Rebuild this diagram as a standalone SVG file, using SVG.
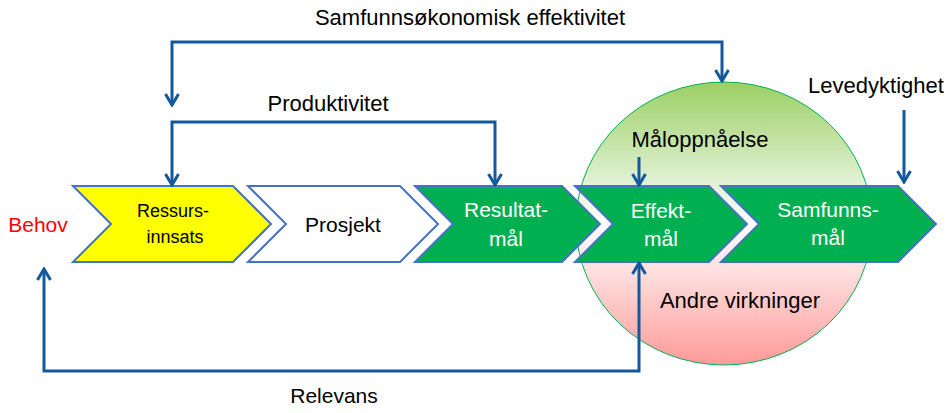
<svg xmlns="http://www.w3.org/2000/svg" width="952" height="413" viewBox="0 0 952 413">
<defs>
<linearGradient id="circ" x1="0" y1="0" x2="0" y2="1">
<stop offset="0" stop-color="#9CCF63"/>
<stop offset="0.33" stop-color="#DCEFCD"/>
<stop offset="0.5" stop-color="#FFFFFF"/>
<stop offset="0.65" stop-color="#FFE3E3"/>
<stop offset="1" stop-color="#FF9A9A"/>
</linearGradient>
<marker id="ah" markerUnits="userSpaceOnUse" markerWidth="16" markerHeight="16" viewBox="0 0 16 16" refX="14" refY="8" orient="auto-start-reverse">
<path d="M3,1.5 L14,8 L3,14.5" fill="none" stroke="#14599C" stroke-width="3"/>
</marker>
</defs>
<style>
text{font-family:"Liberation Sans",Arial,sans-serif;font-size:21px;fill:#000;text-anchor:middle}
.chev{stroke:#4472C4;stroke-width:2;stroke-linejoin:miter}
.w{fill:#FFFFFF}
.conn path{fill:none;stroke:#14599C;stroke-width:3;marker-end:url(#ah)}
.conn path.both{marker-start:url(#ah)}
</style>

<g id="circle">
<ellipse cx="724" cy="223.5" rx="148" ry="141.5" fill="url(#circ)" stroke="#00B050" stroke-width="1"/>
</g>

<g id="behov"><text x="38" y="232" style="fill:#FF0000">Behov</text></g>

<g id="ressursinnsats">
<polygon class="chev" fill="#FFFF00" points="73,186 233,186 271,224 233,262 73,262 111,224"/>
<text x="173" y="217" style="font-size:18px">Ressurs-</text>
<text x="175" y="243" style="font-size:18px">innsats</text>
</g>

<g id="prosjekt">
<polygon class="chev" fill="#FFFFFF" points="248,186 400,186 438,224 400,262 248,262 286,224"/>
<text x="343" y="232">Prosjekt</text>
</g>

<g id="resultatmal">
<polygon class="chev" fill="#00B050" points="415,186 562,186 600,224 562,262 415,262 453,224"/>
<text class="w" x="506" y="217">Resultat-</text>
<text class="w" x="506" y="246">mål</text>
</g>

<g id="effektmal">
<polygon class="chev" fill="#00B050" points="575,186 709,186 747,224 709,262 575,262 613,224"/>
<text class="w" x="661" y="218">Effekt-</text>
<text class="w" x="661" y="246">mål</text>
</g>

<g id="samfunnsmal">
<polygon class="chev" fill="#00B050" points="721,186 898,186 936,224 898,262 721,262 759,224"/>
<text class="w" x="828" y="217">Samfunns-</text>
<text class="w" x="828" y="245">mål</text>
</g>

<g id="labels">
<text x="470" y="25" style="font-size:22px">Samfunnsøkonomisk effektivitet</text>
<text x="328" y="111" style="font-size:22px">Produktivitet</text>
<text x="700" y="147" style="font-size:22px">Måloppnåelse</text>
<text x="876" y="93" style="font-size:22px">Levedyktighet</text>
<text x="740" y="308" style="font-size:22px">Andre virkninger</text>
<text x="334" y="403">Relevans</text>
</g>

<g class="conn" id="connectors">
<path class="both" d="M172,105 V42 H722 V81"/>
<path class="both" d="M172,185 V122 H495 V185"/>
<path d="M639,157 V185"/>
<path d="M904,110 V182"/>
<path class="both" d="M639,263 V371 H44 V269"/>
</g>
</svg>
